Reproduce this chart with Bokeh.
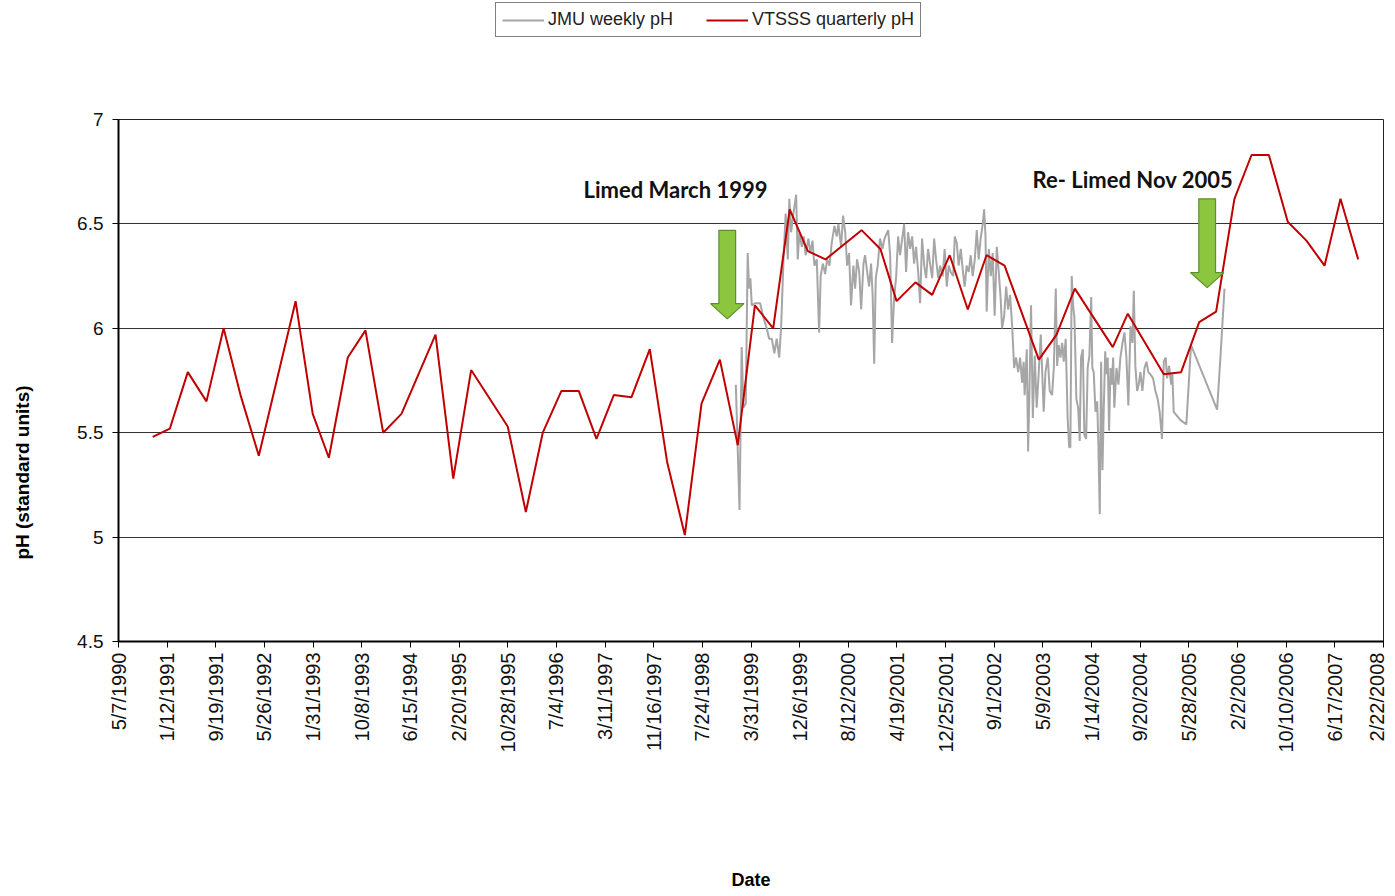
import math
from datetime import datetime

from bokeh.plotting import figure
from bokeh.layouts import column, row
from bokeh.models import FixedTicker, NumeralTickFormatter, Legend, LegendItem, Label
from bokeh.embed import file_html
from bokeh.resources import INLINE

# ---------------- DATA ----------------
# dates are Excel serial day numbers (days since 1899-12-30)
tick_labels = ["5/7/1990", "1/12/1991", "9/19/1991", "5/26/1992", "1/31/1993", "10/8/1993",
               "6/15/1994", "2/20/1995", "10/28/1995", "7/4/1996", "3/11/1997", "11/16/1997",
               "7/24/1998", "3/31/1999", "12/6/1999", "8/12/2000", "4/19/2001", "12/25/2001",
               "9/1/2002", "5/9/2003", "1/14/2004", "9/20/2004", "5/28/2005", "2/2/2006",
               "10/10/2006", "6/17/2007", "2/22/2008"]
y_ticks = [4.5, 5, 5.5, 6, 6.5, 7]

vtsss_dates = [33176, 33264, 33356, 33452, 33540, 33627, 33721, 33910, 33998, 34081,
               34178, 34269, 34360, 34454, 34629, 34720, 34812, 35000, 35093, 35180,
               35276, 35365, 35456, 35545, 35636, 35730, 35819, 35910, 35996, 36090,
               36182, 36270, 36364, 36449, 36542, 36633, 36818, 36915, 36998, 37095,
               37181, 37271, 37364, 37460, 37553, 37729, 37820, 37914, 38109, 38186,
               38371, 38460, 38553, 38640, 38734, 38822, 38911, 39008, 39104, 39197,
               39279, 39370]
vtsss_ph = [5.48, 5.52, 5.79, 5.65, 6.00, 5.68, 5.39, 6.13, 5.59, 5.38,
            5.86, 5.99, 5.50, 5.59, 5.97, 5.28, 5.80, 5.53, 5.12, 5.50,
            5.70, 5.70, 5.47, 5.68, 5.67, 5.90, 5.36, 5.01, 5.64, 5.85,
            5.44, 6.11, 6.00, 6.57, 6.37, 6.33, 6.47, 6.38, 6.13, 6.22,
            6.16, 6.35, 6.09, 6.35, 6.30, 5.85, 5.97, 6.19, 5.91, 6.07,
            5.78, 5.79, 6.03, 6.08, 6.62, 6.83, 6.83, 6.51, 6.42, 6.30,
            6.62, 6.33]

jmu_dates = [36172, 36191, 36202, 36211, 36223, 36233, 36240, 36247, 36254, 36271,
             36297, 36314, 36331, 36343, 36357, 36370, 36382, 36395, 36405, 36417,
             36428, 36439, 36447, 36456, 36468, 36482, 36490, 36499, 36511, 36521,
             36531, 36545, 36555, 36566, 36576, 36588, 36600, 36608, 36619, 36631,
             36641, 36653, 36665, 36679, 36691, 36699, 36713, 36723, 36734, 36744,
             36754, 36764, 36776, 36785, 36795, 36806, 36816, 36828, 36836, 36847,
             36857, 36867, 36875, 36883, 36891, 36901, 36913, 36925, 36936,
             36955, 36965, 36975, 36985, 36996, 37006, 37016, 37027, 37037, 37047,
             37057, 37068, 37078, 37088, 37098, 37109, 37119, 37129, 37140, 37150,
             37160, 37170, 37181, 37191, 37201, 37212, 37222, 37235, 37245, 37256,
             37266, 37276, 37289, 37297, 37307, 37317, 37328, 37338, 37348, 37358,
             37369, 37379, 37389, 37400, 37410, 37420, 37430, 37441, 37448, 37455,
             37461, 37472, 37482, 37492, 37502, 37513, 37523, 37533, 37540, 37551,
             37561, 37571, 37581, 37592, 37602, 37612, 37623, 37633, 37643, 37651,
             37656, 37667, 37674, 37681, 37689, 37698, 37708, 37718, 37728, 37739,
             37754, 37763, 37775, 37785, 37797, 37806, 37816, 37823, 37831, 37840,
             37849, 37857, 37867, 37877, 37885, 37891, 37898, 37905, 37912, 37922,
             37931, 37939, 37946, 37955, 37963, 37972, 37980, 37989, 37998, 38004,
             38011, 38020, 38029, 38035, 38042, 38049, 38056, 38062, 38070, 38076,
             38083, 38090, 38097, 38104, 38111, 38117, 38128, 38138, 38148, 38159,
             38169, 38179, 38189, 38200, 38210, 38217, 38225, 38234, 38242, 38251,
             38261, 38272, 38282, 38292, 38302, 38316, 38328, 38340, 38350, 38362,
             38371, 38381, 38388, 38398, 38409, 38415, 38422, 38457, 38487, 38511,
             38645, 38662, 38683]
jmu_ph = [5.73, 5.13, 5.91, 5.62, 5.64, 6.36, 6.19, 6.24, 6.11, 6.12,
          6.12, 6.05, 6.00, 5.95, 5.95, 5.88, 5.95, 5.86, 6.01, 6.33,
          6.55, 6.33, 6.62, 6.46, 6.55, 6.64, 6.33, 6.46, 6.39, 6.44,
          6.35, 6.43, 6.36, 6.42, 6.30, 6.33, 5.98, 6.25, 6.31, 6.26,
          6.33, 6.30, 6.41, 6.49, 6.44, 6.50, 6.39, 6.54, 6.46, 6.30,
          6.36, 6.11, 6.30, 6.19, 6.33, 6.27, 6.09, 6.31, 6.35, 6.27,
          6.20, 6.31, 6.16, 5.83, 6.24, 6.30, 6.43, 6.38, 6.43,
          6.47, 6.35, 5.93, 6.14, 6.25, 6.44, 6.35, 6.43, 6.50, 6.27,
          6.46, 6.38, 6.44, 6.31, 6.39, 6.27, 6.12, 6.43, 6.30, 6.24,
          6.38, 6.31, 6.24, 6.43, 6.33, 6.24, 6.30, 6.25, 6.38, 6.20,
          6.30, 6.27, 6.25, 6.44, 6.41, 6.30, 6.38, 6.28, 6.20, 6.30,
          6.27, 6.35, 6.25, 6.33, 6.47, 6.33, 6.43, 6.50, 6.57, 6.44,
          6.08, 6.38, 6.25, 6.36, 6.06, 6.39, 6.27, 6.14, 6.00, 6.06,
          6.20, 6.09, 6.16, 6.01, 5.81, 5.86, 5.79, 5.86, 5.74, 5.84,
          5.68, 5.90, 5.41, 5.71, 6.11, 5.57, 5.87, 5.62, 5.78, 5.97,
          5.60, 5.79, 5.86, 5.70, 5.68, 5.81, 6.19, 5.82, 5.92, 5.86,
          5.93, 5.84, 5.95, 5.57, 5.43, 5.43, 6.25, 6.11, 6.05, 5.66,
          5.62, 5.46, 5.86, 5.90, 5.49, 5.47, 5.81, 5.87, 6.15, 5.81,
          5.79, 5.60, 5.65, 5.44, 5.11, 5.84, 5.32, 5.59, 5.89, 5.78,
          5.86, 5.51, 5.81, 5.73, 5.86, 5.62, 5.81, 5.73, 5.86, 5.93,
          5.98, 5.86, 5.63, 6.01, 5.93, 6.18, 5.82, 5.70, 5.73, 5.79,
          5.70, 5.81, 5.84, 5.79, 5.78, 5.76, 5.70, 5.66, 5.60, 5.47,
          5.84, 5.86, 5.76, 5.82, 5.73, 5.78, 5.60, 5.56, 5.54, 5.92,
          5.61, 5.86, 6.19]

series_names = ["JMU weekly pH", "VTSSS quarterly pH"]
annotation_texts = ["Limed March 1999", "Re- Limed Nov  2005"]
x_title = "Date"
y_title = "pH (standard units)"

# ---------------- LAYOUT / STYLE ----------------
EXCEL_EPOCH = datetime(1899, 12, 30)


def to_serial(s):
    m, d, y = map(int, s.split("/"))
    return (datetime(y, m, d) - EXCEL_EPOCH).days


tick_vals = [to_serial(t) for t in tick_labels]

FONT = "Liberation Sans"
GRAY = "#A6A6A6"
RED = "#C00000"
TOP_H = 40     # legend strip height
LEFT_W = 40    # y-title strip width
MAIN_W = 1347
MAIN_H = 852
FRAME_BOTTOM = 645   # page y of the plot frame's bottom edge (frames are aligned in the row)


def bare(fig):
    fig.background_fill_color = "white"
    fig.border_fill_color = "white"
    fig.outline_line_color = None
    fig.grid.visible = False
    return fig


# --- legend strip (proxy lines lie outside the strip's visible range) ---
leg_fig = bare(figure(width=LEFT_W + MAIN_W, height=TOP_H, x_range=(0, 1), y_range=(0, 1),
                      output_backend="svg", toolbar_location=None,
                      x_axis_location=None, y_axis_location=None, min_border=0))
lg_gray = leg_fig.line([-3, -2], [-3, -2], line_color=GRAY, line_width=2)
lg_red = leg_fig.line([-3, -2], [-3, -2], line_color=RED, line_width=2)
legend = Legend(items=[LegendItem(label=series_names[0], renderers=[lg_gray]),
                       LegendItem(label=series_names[1], renderers=[lg_red])],
                location=(495, 3), orientation="horizontal",
                margin=0, padding=6, spacing=33, glyph_width=42,
                label_standoff=4,
                label_text_font=FONT, label_text_font_size="18px",
                label_text_color="#222222",
                border_line_color="black", border_line_width=1,
                background_fill_color="white", background_fill_alpha=1)
leg_fig.add_layout(legend, "center")

# --- y-title strip: screen units measured up from the (row-aligned) frame bottom ---
yt_fig = bare(figure(width=LEFT_W, height=MAIN_H, x_range=(0, 1), y_range=(0, 1),
                     output_backend="svg", toolbar_location=None,
                     x_axis_location=None, y_axis_location=None, min_border=0))
yt_fig.add_layout(Label(x=22, y=FRAME_BOTTOM - 476, x_units="screen", y_units="screen",
                        text=y_title, angle=math.pi / 2,
                        text_font=FONT, text_font_style="bold",
                        text_font_size="19px", text_color="black",
                        text_align="center", text_baseline="middle"))

# --- main chart ---
p = figure(width=MAIN_W, height=MAIN_H,
           x_range=(tick_vals[0], tick_vals[-1]), y_range=(4.5, 7),
           output_backend="svg", toolbar_location=None,
           min_border_left=118 - LEFT_W, min_border_right=4,
           min_border_top=119 - TOP_H, min_border_bottom=247)

p.background_fill_color = "white"
p.border_fill_color = "white"
p.outline_line_color = "#222222"
p.outline_line_width = 1

# x axis
p.xaxis.ticker = FixedTicker(ticks=tick_vals)
p.xaxis.major_label_overrides = {v: t for v, t in zip(tick_vals, tick_labels)}
p.xaxis.major_label_orientation = math.pi / 2
p.xaxis.major_label_text_font = FONT
p.xaxis.major_label_text_font_size = "20px"
p.xaxis.major_label_text_color = "#111111"
p.xaxis.major_label_standoff = 5
p.xaxis.major_tick_out = 6
p.xaxis.major_tick_in = 0
p.xaxis.minor_tick_out = 0
p.xaxis.minor_tick_in = 0
p.xaxis.axis_line_color = "black"
p.xaxis.axis_line_width = 2
p.xaxis.major_tick_line_color = "black"
p.xaxis.axis_label = x_title
p.xaxis.axis_label_text_font = FONT
p.xaxis.axis_label_text_font_style = "bold"
p.xaxis.axis_label_text_font_size = "18px"
p.xaxis.axis_label_text_color = "black"
p.xaxis.axis_label_standoff = 114

# y axis
p.yaxis.ticker = FixedTicker(ticks=y_ticks)
p.yaxis.formatter = NumeralTickFormatter(format="0.[0]")
p.yaxis.major_label_text_font = FONT
p.yaxis.major_label_text_font_size = "19px"
p.yaxis.major_label_text_color = "#111111"
p.yaxis.major_label_standoff = 9
p.yaxis.major_tick_out = 6
p.yaxis.major_tick_in = 0
p.yaxis.minor_tick_out = 0
p.yaxis.minor_tick_in = 0
p.yaxis.axis_line_color = "black"
p.yaxis.axis_line_width = 2
p.yaxis.major_tick_line_color = "black"

p.xgrid.visible = False
p.ygrid.ticker = FixedTicker(ticks=y_ticks)
p.ygrid.grid_line_color = "#333333"
p.ygrid.grid_line_width = 1

# series
p.line(jmu_dates, jmu_ph, line_color=GRAY, line_width=2)
p.line(vtsss_dates, vtsss_ph, line_color=RED, line_width=2)

# arrows (annotation shapes): centre date, top pH, neck pH, tip pH, shaft half-width, head half-width (days)
ARROWS = [(36128, 6.469, 6.118, 6.045, 43, 86),
          (38594, 6.620, 6.267, 6.195, 43, 86)]
for cx, top, neck, tip, sw, hw in ARROWS:
    xs = [cx - sw, cx + sw, cx + sw, cx + hw, cx, cx - hw, cx - sw]
    ys = [top, top, neck, neck, tip, neck, neck]
    p.patch(xs, ys, fill_color="#8CC63F", line_color="#5E8F2E", line_width=1.2)

# text annotations
TEXT_POS = [(35862, 6.663), (38226, 6.715)]
for (tx, ty), txt in zip(TEXT_POS, annotation_texts):
    p.add_layout(Label(x=tx, y=ty, text=txt, text_font="Lato",
                       text_font_style="bold", text_font_size="22px",
                       text_color="#111111", text_align="center",
                       text_baseline="middle"))

layout = column(leg_fig, row(yt_fig, p, spacing=0), spacing=0)

open("out.html", "w").write(file_html(layout, INLINE))
